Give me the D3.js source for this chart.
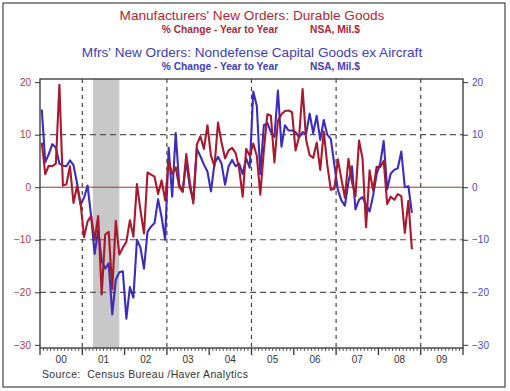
<!DOCTYPE html>
<html><head><meta charset="utf-8">
<script src="https://cdn.jsdelivr.net/npm/d3@7"></script>
<style>body{margin:0;background:#fff}svg{display:block}text{font-family:"Liberation Sans",Arial,sans-serif}</style>
</head><body>
<svg id="c" width="510" height="391"></svg>
<script>
const startYear = 2000;
const yearLabels = ["00","01","02","03","04","05","06","07","08","09"];
const yTicks = [20,10,0,-10,-20,-30];
const gridY = [10,-10,-20];
const gridX = [2001,2003,2005,2007,2009];
const recession = [2001.25, 2001.875];
const durable = [8.5,2.5,4.1,4.0,4.5,19.5,0.3,0.6,4.0,-3.0,0.2,-3.0,
 -9.5,-6.5,-5.5,-10.0,-5.5,-20.4,-9.0,-8.5,-19.4,-6.4,-12.8,-11.5,
 -10.4,-6.3,-9.4,0.6,-4.4,-8.8,2.8,2.4,2.0,-1.3,1.3,-2.5,
 5.0,2.5,3.8,0.0,-0.9,6.3,1.0,-3.1,8.1,9.7,7.3,11.8,
 6.0,4.0,12.3,8.5,5.5,7.0,7.5,6.5,3.5,-1.8,7.3,6.0,
 8.3,6.0,-1.4,7.0,13.9,13.6,4.7,12.7,13.9,14.5,14.6,14.3,
 7.0,9.6,18.7,9.0,6.1,5.6,8.5,3.3,10.6,4.3,-0.5,-0.3,
 5.3,1.6,-2.0,5.4,1.0,-1.7,8.9,5.5,-7.6,3.2,-0.6,3.9,
 3.8,5.0,-3.2,-1.8,-2.4,-1.3,-1.7,-8.7,-2.6,-11.8];
const capital = [14.8,4.8,6.3,8.2,7.5,4.5,4.1,4.0,5.1,4.2,0.8,-3.3,
 -2.0,0.3,-5.5,-12.7,-8.2,-14.0,-15.5,-14.5,-24.2,-17.6,-16.2,-16.0,
 -25.0,-19.0,-21.0,-10.0,-11.5,-15.5,-8.5,-7.5,-6.8,-2.3,-5.7,-10.0,
 7.5,-1.8,10.3,0.5,-0.8,5.0,0.0,-2.5,7.3,5.9,4.3,3.0,
 -0.8,4.5,5.8,4.5,0.5,4.0,5.2,4.0,4.5,2.5,5.5,3.7,
 18.2,15.5,2.5,11.8,12.2,10.5,9.6,18.4,7.7,11.8,10.8,10.8,
 10.5,9.5,10.5,10.2,14.0,10.3,13.6,9.0,12.8,10.0,9.2,4.3,
 -0.5,-2.5,-3.5,1.0,4.0,-4.2,-2.4,-1.9,-3.3,-4.6,-1.6,2.5,
 4.5,8.8,-0.4,2.6,3.3,3.6,6.8,0.0,0.2,-4.9];

const svg = d3.select("#c");
const L=40, R=463, T=79, B=348;
const x = d3.scaleLinear().domain([2000,2010]).range([L,R]);
const y = d3.scaleLinear().domain([-30.6,20.6]).range([B,T]);
const red="#a6192e", blue="#3b2db8";

// outer frame
svg.append("rect").attr("x",3).attr("y",3).attr("width",502).attr("height",384)
  .attr("fill","none").attr("stroke","#444").attr("stroke-width",1.2);

// titles
const t = svg.append("g").attr("text-anchor","middle");
t.append("text").attr("x",252).attr("y",19.5).attr("font-size",13.6).attr("fill","#a8283a")
 .text("Manufacturers' New Orders: Durable Goods");
t.append("text").attr("x",220).attr("y",32.5).attr("font-size",10.2).attr("font-weight","bold").attr("fill","#a8283a")
 .text("% Change - Year to Year");
t.append("text").attr("x",335).attr("y",32.5).attr("font-size",10.2).attr("font-weight","bold").attr("fill","#a8283a")
 .text("NSA, Mil.$");
t.append("text").attr("x",252).attr("y",56.5).attr("font-size",13.6).attr("fill","#4040b0")
 .text("Mfrs' New Orders: Nondefense Capital Goods ex Aircraft");
t.append("text").attr("x",220).attr("y",69.5).attr("font-size",10.2).attr("font-weight","bold").attr("fill","#4040b0")
 .text("% Change - Year to Year");
t.append("text").attr("x",335).attr("y",69.5).attr("font-size",10.2).attr("font-weight","bold").attr("fill","#4040b0")
 .text("NSA, Mil.$");

// recession
svg.append("rect").attr("x",x(recession[0])).attr("y",T)
  .attr("width",x(recession[1])-x(recession[0])).attr("height",B-T).attr("fill","#c8c8c8");

// grid
svg.append("g").selectAll("line").data(gridY).join("line")
  .attr("x1",L).attr("x2",R).attr("y1",d=>y(d)).attr("y2",d=>y(d))
  .attr("stroke","#555").attr("stroke-width",1.2).attr("stroke-dasharray","6,4");
svg.append("g").selectAll("line").data(gridX).join("line")
  .attr("x1",d=>x(d)).attr("x2",d=>x(d)).attr("y1",T).attr("y2",B)
  .attr("stroke","#444").attr("stroke-width",1.2).attr("stroke-dasharray","4,4");
svg.append("line").attr("x1",L).attr("x2",R).attr("y1",y(0)).attr("y2",y(0))
  .attr("stroke","#a03040").attr("stroke-width",1);

// series
const pos = i => startYear + (i+0.5)/12;
const line = d3.line().x((d,i)=>x(pos(i))).y(d=>y(d));
svg.append("path").datum(capital).attr("d",line).attr("fill","none")
  .attr("stroke",blue).attr("stroke-width",2.1).attr("stroke-linejoin","round");
svg.append("path").datum(durable).attr("d",line).attr("fill","none")
  .attr("stroke",red).attr("stroke-width",2.1).attr("stroke-linejoin","round");

// frame
svg.append("rect").attr("x",L).attr("y",T).attr("width",R-L).attr("height",B-T)
  .attr("fill","none").attr("stroke","#333").attr("stroke-width",1.3);

// y axes
const yl = svg.append("g").attr("transform",`translate(${L},0)`)
  .call(d3.axisLeft(y).tickValues(yTicks).tickSize(5).tickPadding(4));
yl.select(".domain").remove();
yl.selectAll("line").attr("stroke","#333");
yl.selectAll("text").attr("fill","#b03a48").attr("font-size",10).attr("font-family","Liberation Sans, Arial");
const yr = svg.append("g").attr("transform",`translate(${R},0)`)
  .call(d3.axisRight(y).tickValues(yTicks).tickSize(5).tickPadding(4));
yr.select(".domain").remove();
yr.selectAll("line").attr("stroke","#333");
yr.selectAll("text").attr("fill","#4a4ab5").attr("font-size",10).attr("font-family","Liberation Sans, Arial");

// x axis ticks
const months = d3.range(0,121).map(m=>2000+m/12);
svg.append("g").selectAll("line").data(months).join("line")
  .attr("x1",d=>x(d)).attr("x2",d=>x(d)).attr("y1",B)
  .attr("y2",(d,i)=> i%12===0 ? B+7 : B+3)
  .attr("stroke","#333").attr("stroke-width",(d,i)=> i%12===0 ? 1.3 : 0.8);
svg.append("g").selectAll("text").data(yearLabels).join("text")
  .attr("x",(d,i)=>x(2000+i+0.5)).attr("y",363).attr("text-anchor","middle")
  .attr("font-size",10).attr("fill","#333").text(d=>d);

svg.append("text").attr("x",42).attr("y",378).attr("font-size",10.5).attr("fill","#333")
  .attr("letter-spacing",0.35).attr("xml:space","preserve").style("white-space","pre")
  .text("Source:  Census Bureau /Haver Analytics");
</script>
</body></html>
